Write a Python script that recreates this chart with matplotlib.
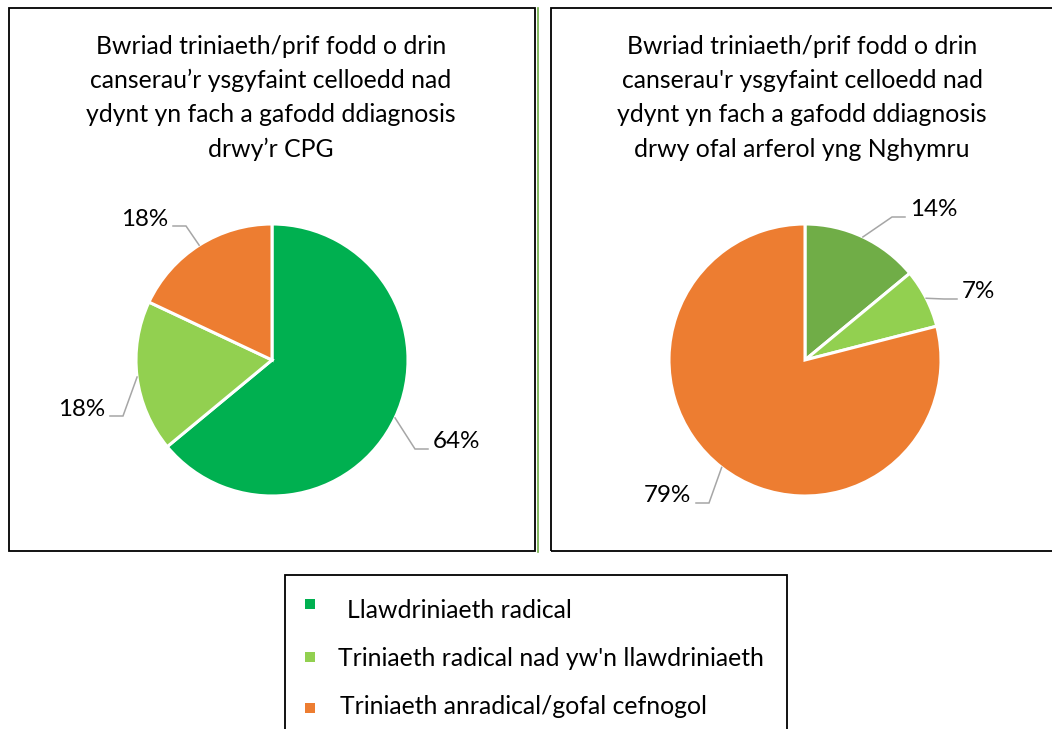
import matplotlib
matplotlib.use("Agg")
import matplotlib.pyplot as plt
import numpy as np
from matplotlib.patches import Rectangle
from matplotlib.lines import Line2D

plt.rcParams['font.family'] = ['Lato', 'DejaVu Sans']

# data
categories = ["Llawdriniaeth radical",
              "Triniaeth radical nad yw'n llawdriniaeth",
              "Triniaeth anradical/gofal cefnogol"]
cpg_values = [64, 18, 18]
routine_values = [14, 7, 79]
cpg_labels = ["64%", "18%", "18%"]
routine_labels = ["14%", "7%", "79%"]

title_cpg = ["Bwriad triniaeth/prif fodd o drin",
             "canserau\u2019r ysgyfaint celloedd nad",
             "ydynt yn fach a gafodd ddiagnosis",
             "drwy\u2019r CPG"]
title_routine = ["Bwriad triniaeth/prif fodd o drin",
                 "canserau'r ysgyfaint celloedd nad",
                 "ydynt yn fach a gafodd ddiagnosis",
                 "drwy ofal arferol yng Nghymru"]

legend_colors = ['#00B050', '#92D050', '#ED7D31']
cpg_colors = ['#00B050', '#92D050', '#ED7D31']
routine_colors = ['#70AD47', '#92D050', '#ED7D31']

W, H = 1052, 729
FS = 17.8
fig = plt.figure(figsize=(W / 100, H / 100), dpi=100)


def px(x, y):
    return x / W, 1 - y / H


def box(x0, y0, x1, y1):
    fig.patches.append(Rectangle(px(x0, y1), (x1 - x0) / W, (y1 - y0) / H,
                                 transform=fig.transFigure, fill=False,
                                 edgecolor='black', linewidth=1.3))


def draw_pie(cx, cy, r, values, colors, labels, label_pos, title, title_x):
    x0, y0 = px(cx - r, cy + r)
    ax = fig.add_axes([x0, y0, 2 * r / W, 2 * r / H])
    wedges, _ = ax.pie(values, colors=colors, startangle=90, counterclock=False,
                       wedgeprops=dict(edgecolor='white', linewidth=2.2))
    ax.set_xlim(-1, 1)
    ax.set_ylim(-1, 1)
    ax.set_axis_off()
    k = 1.0 / r  # data units per pixel
    for w, lab, (tx, ty, side) in zip(wedges, labels, label_pos):
        # leader line goes to the middle of the wedge's outer edge
        ang = np.deg2rad((w.theta1 + w.theta2) / 2)
        ex, ey = np.cos(ang), np.sin(ang)
        ha = 'right' if side < 0 else 'left'
        ax.text(tx, ty, lab, ha=ha, va='center', fontsize=17.4, color='black',
                clip_on=False)
        ly = ty - 7 * k
        start = tx + (5 * k if side < 0 else -5 * k)
        elbow = tx + (18 * k if side < 0 else -18 * k)
        ax.plot([start, elbow, ex], [ly, ly, ey], color='#A6A6A6', lw=1.1,
                clip_on=False, solid_joinstyle='miter')
    for i, line in enumerate(title):
        fig.text(title_x / W, 1 - (46 + 34.5 * i) / H, line, ha='center',
                 va='center', fontsize=FS)


R = 136
# label anchor (text edge) in pie data units, side -1 = text left of line
cpg_pos = [((433 - 272) / R, -(442 - 360) / R, 1),
           ((105 - 272) / R, -(409 - 360) / R, -1),
           ((168 - 272) / R, -(219 - 360) / R, -1)]
routine_pos = [((910 - 805) / R, -(210 - 360) / R, 1),
               ((962 - 805) / R, -(292 - 360) / R, 1),
               ((691 - 805) / R, -(496 - 360) / R, -1)]

box(9, 8, 535, 551)
fig.lines.append(Line2D([537.5 / W, 537.5 / W], [1 - 8 / H, 1 - 552 / H],
                        transform=fig.transFigure, color='#70AD47', lw=1.2))
box(551, 8, 1060, 551)
draw_pie(272, 360, R, cpg_values, cpg_colors, cpg_labels, cpg_pos, title_cpg, 271)
draw_pie(805, 360, R, routine_values, routine_colors, routine_labels, routine_pos,
         title_routine, 802)

# legend
box(285, 575, 787, 740)
leg_y = [604, 657, 708]
leg_text_x = [347, 338, 340]
leg_text_y = [610, 658, 706]
for c, lab, my, tx, ty in zip(legend_colors, categories, leg_y, leg_text_x, leg_text_y):
    fig.patches.append(Rectangle(px(305, my + 5), 10 / W, 10 / H,
                                 transform=fig.transFigure, facecolor=c,
                                 edgecolor='none'))
    fig.text(tx / W, 1 - ty / H, lab, ha='left', va='center', fontsize=FS)

fig.savefig('out.png', dpi=100, facecolor='white')
